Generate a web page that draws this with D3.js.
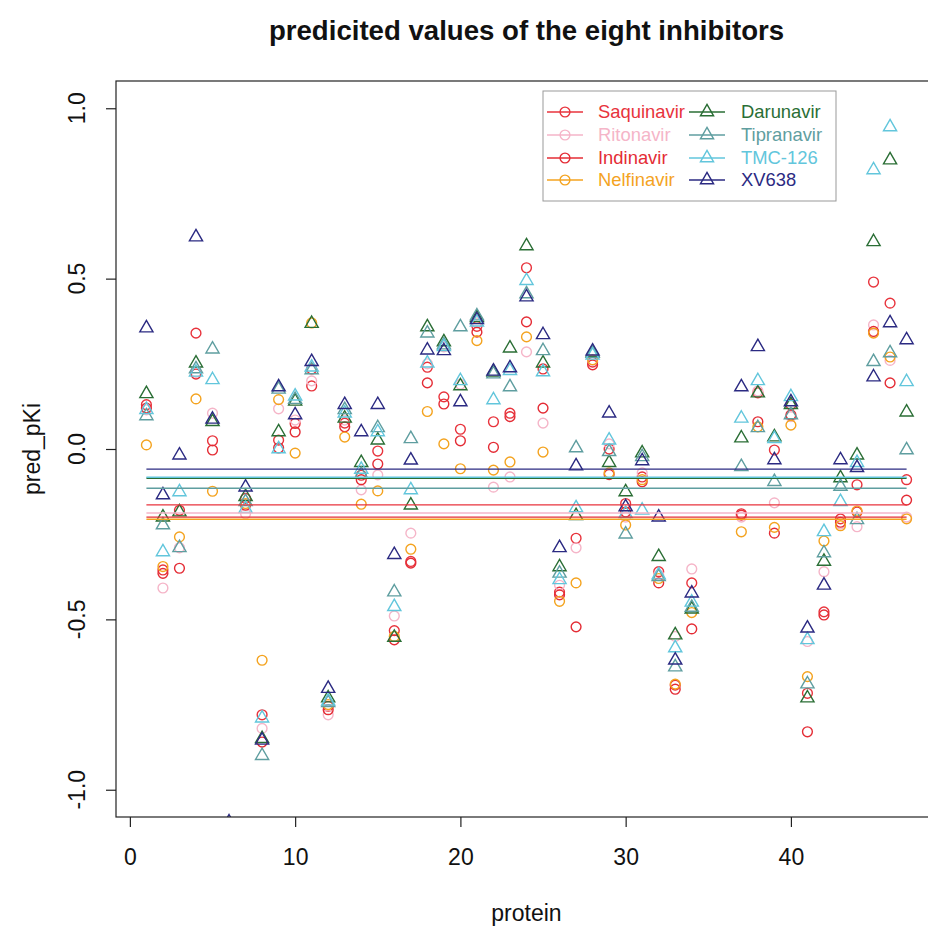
<!DOCTYPE html>
<html>
<head>
<meta charset="utf-8">
<script src="https://cdn.jsdelivr.net/npm/d3@7"></script>
<style>
  body { margin: 0; background: #fff; }
  svg { display: block; font-family: "Liberation Sans", Arial, sans-serif; }
</style>
</head>
<body>
<svg width="928" height="927"></svg>
<script>
// protein index on the x axis (35 and 36 have no plotted value)
const proteins = [1,2,3,4,5,6,7,8,9,10,11,12,13,14,15,16,17,18,19,20,21,22,23,24,25,26,27,28,29,30,
  31,32,33,34,35,36,37,38,39,40,41,42,43,44,45,46,47];

const saquinavir = [0.13,-0.355,-0.18,0.34,0.024,-1.2,-0.145,-0.78,0.026,0.075,0.185,-0.755,0.076,-0.077,-0.006,-0.533,-0.33,0.24,0.153,0.058,
  0.36,0.08,0.105,0.532,0.235,-0.42,-0.262,0.255,0.0,-0.16,-0.082,-0.36,-0.693,-0.393,null,null,-0.194,0.165,-0.003,0.13,
  -0.717,-0.478,-0.205,-0.105,0.49,0.428,-0.09];
const ritonavir = [0.115,-0.408,-0.29,0.225,0.105,-1.25,-0.19,-0.82,0.118,0.085,0.2,-0.78,0.085,-0.12,-0.076,-0.49,-0.247,0.25,0.3,0.19,
  0.37,-0.112,-0.082,0.285,0.076,-0.4,-0.29,0.26,0.015,-0.2,-0.07,-0.37,-0.55,-0.352,null,null,-0.2,0.17,-0.158,0.095,
  -0.565,-0.36,-0.22,-0.228,0.364,0.26,-0.2];
const indinavir = [0.12,-0.365,-0.35,0.22,-0.003,-1.22,-0.165,-0.86,0.003,0.05,0.235,-0.765,0.065,-0.09,-0.044,-0.56,-0.335,0.194,0.132,0.024,
  0.343,0.005,0.095,0.373,0.12,-0.428,-0.522,0.247,-0.075,-0.185,-0.096,-0.393,-0.705,-0.528,null,null,-0.19,0.08,-0.247,0.1,
  -0.83,-0.487,-0.215,-0.185,0.345,0.194,-0.15];
const nelfinavir = [0.012,-0.345,-0.258,0.147,-0.124,-1.18,-0.16,-0.62,0.145,-0.012,0.37,-0.75,0.035,-0.162,-0.123,-0.55,-0.294,0.11,0.015,-0.058,
  0.318,-0.062,-0.038,0.329,-0.009,-0.447,-0.393,0.262,-0.07,-0.223,-0.09,-0.38,-0.69,-0.48,null,null,-0.243,0.065,-0.23,0.07,
  -0.668,-0.27,-0.225,-0.182,0.34,0.27,-0.205];
const darunavir = [0.162,-0.2,-0.185,0.252,0.08,-1.15,-0.14,-0.85,0.05,0.14,0.368,-0.731,0.09,-0.04,0.026,-0.553,-0.165,0.358,0.314,0.185,
  0.385,0.225,0.296,0.596,0.252,-0.346,-0.196,0.282,-0.04,-0.126,-0.012,-0.316,-0.546,-0.47,null,null,0.032,0.164,0.035,0.13,
  -0.731,-0.33,-0.085,-0.018,0.608,0.848,0.108];
const tipranavir = [0.097,-0.223,-0.29,0.235,0.293,-1.28,-0.155,-0.9,0.175,0.145,0.232,-0.745,0.115,-0.075,0.062,-0.42,0.03,0.34,0.305,0.358,
  0.39,0.22,0.182,0.455,0.288,-0.365,0.003,0.28,-0.008,-0.25,-0.023,-0.375,-0.64,-0.465,null,null,-0.052,0.062,-0.096,0.1,
  -0.69,-0.305,-0.11,-0.208,0.256,0.282,-0.003];
const tmc126 = [0.115,-0.302,-0.126,0.225,0.203,-1.2,-0.175,-0.79,0.0,0.155,0.24,-0.74,0.105,-0.06,0.05,-0.463,-0.12,0.252,0.3,0.2,
  0.372,0.144,0.23,0.494,0.226,-0.384,-0.173,0.275,0.026,-0.19,-0.18,-0.37,-0.584,-0.45,null,null,0.09,0.2,0.03,0.153,
  -0.56,-0.243,-0.155,-0.04,0.819,0.945,0.197];
const xv638 = [0.355,-0.135,-0.018,0.622,0.087,-1.095,-0.112,-0.855,0.182,0.1,0.256,-0.703,0.13,0.05,0.13,-0.31,-0.033,0.29,0.288,0.138,
  0.379,0.228,0.238,0.446,0.335,-0.29,-0.05,0.287,0.105,-0.17,-0.035,-0.2,-0.62,-0.423,null,null,0.182,0.3,-0.032,0.138,
  -0.526,-0.4,-0.032,-0.055,0.211,0.37,0.32];

// horizontal reference level of each inhibitor
const meanLevels = [-0.164, -0.188, -0.2, -0.206, -0.086, -0.115, -0.083, -0.059];

const names = ["Saquinavir","Ritonavir","Indinavir","Nelfinavir","Darunavir","Tipranavir","TMC-126","XV638"];
const values = [saquinavir, ritonavir, indinavir, nelfinavir, darunavir, tipranavir, tmc126, xv638];
const colors = ["#e8333c","#f5b5c8","#e42c35","#f4a31f","#2a6e35","#5f9ea0","#62c6dc","#2b2a82"];
const shapes = ["circle","circle","circle","circle","triangle","triangle","triangle","triangle"];

const xTicks = [0, 10, 20, 30, 40];
const yTicks = [-1.0, -0.5, 0.0, 0.5, 1.0];

const svg = d3.select("svg");
const plot = { left: 116, right: 937, top: 81, bottom: 817 };

const x = d3.scaleLinear().domain([-0.84, 48.84]).range([plot.left, plot.right]);
const y = d3.scaleLinear().domain([-1.08, 1.08]).range([plot.bottom, plot.top]);

const circleR = 4.9, triR = 7.6;
function triPath(r) {
  const xc = r * Math.sqrt(3) / 2, yc = r / 2;
  return `M0,${-r}L${xc},${yc}L${-xc},${yc}Z`;
}

svg.append("clipPath").attr("id", "clip")
  .append("rect")
  .attr("x", plot.left).attr("y", plot.top)
  .attr("width", plot.right - plot.left).attr("height", plot.bottom - plot.top);

const g = svg.append("g").attr("clip-path", "url(#clip)");

// points for each inhibitor
values.forEach((series, i) => {
  const pts = proteins.map((p, j) => ({ p, v: series[j] })).filter(d => d.v !== null);
  if (shapes[i] === "circle") {
    g.selectAll(null).data(pts).enter().append("circle")
      .attr("cx", d => x(d.p)).attr("cy", d => y(d.v)).attr("r", circleR)
      .attr("fill", "none").attr("stroke", colors[i]).attr("stroke-width", 1.4);
  } else {
    g.selectAll(null).data(pts).enter().append("path")
      .attr("transform", d => `translate(${x(d.p)},${y(d.v)})`)
      .attr("d", triPath(triR))
      .attr("fill", "none").attr("stroke", colors[i]).attr("stroke-width", 1.4);
  }
});

// mean lines
meanLevels.forEach((m, i) => {
  g.append("line")
    .attr("x1", x(proteins[0])).attr("x2", x(proteins[proteins.length - 1]))
    .attr("y1", y(m)).attr("y2", y(m))
    .attr("stroke", colors[i]).attr("stroke-width", 1.4);
});

// box
svg.append("rect")
  .attr("x", plot.left).attr("y", plot.top)
  .attr("width", plot.right - plot.left).attr("height", plot.bottom - plot.top)
  .attr("fill", "none").attr("stroke", "#222").attr("stroke-width", 1.2);

// x axis
const xAxis = svg.append("g")
  .attr("transform", `translate(0,${plot.bottom})`)
  .call(d3.axisBottom(x).tickValues(xTicks).tickSize(10).tickPadding(22).tickFormat(d3.format("d")));
xAxis.select(".domain").remove();
xAxis.selectAll("line").attr("stroke", "#222").attr("stroke-width", 1.2);
xAxis.selectAll("text").attr("font-size", 23).attr("fill", "#111")
  .attr("font-family", "'Liberation Sans', Arial, sans-serif");

// y axis
const yAxis = svg.append("g")
  .attr("transform", `translate(${plot.left},0)`)
  .call(d3.axisLeft(y).tickValues(yTicks).tickSize(10).tickFormat(""));
yAxis.select(".domain").remove();
yAxis.selectAll("line").attr("stroke", "#222").attr("stroke-width", 1.2);
svg.append("g").selectAll("text").data(yTicks).enter().append("text")
  .attr("transform", d => `translate(85,${y(d)}) rotate(-90)`)
  .attr("text-anchor", "middle")
  .attr("font-size", 23).attr("fill", "#111")
  .text(d => d3.format(".1f")(d).replace("−", "-"));

// titles
svg.append("text")
  .attr("x", (plot.left + plot.right) / 2).attr("y", 40)
  .attr("text-anchor", "middle").attr("font-size", 27.6).attr("font-weight", "bold")
  .attr("fill", "#111")
  .text("predicited values of the eight inhibitors");
svg.append("text")
  .attr("x", (plot.left + plot.right) / 2).attr("y", 921)
  .attr("text-anchor", "middle").attr("font-size", 23).attr("fill", "#111")
  .text("protein");
svg.append("text")
  .attr("transform", `translate(40,${(plot.top + plot.bottom) / 2}) rotate(-90)`)
  .attr("text-anchor", "middle").attr("font-size", 23).attr("fill", "#111")
  .text("pred_pKi");

// legend
const legend = svg.append("g");
legend.append("rect")
  .attr("x", 543).attr("y", 91).attr("width", 293).attr("height", 110)
  .attr("fill", "#fff").attr("stroke", "#999").attr("stroke-width", 1);
const rowY = [112, 135, 158, 180];
names.forEach((name, i) => {
  const col = i < 4 ? 0 : 1;
  const cy = rowY[i % 4];
  const cx = col === 0 ? 565 : 707;
  legend.append("line")
    .attr("x1", cx - 18).attr("x2", cx + 18).attr("y1", cy).attr("y2", cy)
    .attr("stroke", colors[i]).attr("stroke-width", 1.4);
  if (shapes[i] === "circle") {
    legend.append("circle").attr("cx", cx).attr("cy", cy).attr("r", circleR)
      .attr("fill", "none").attr("stroke", colors[i]).attr("stroke-width", 1.4);
  } else {
    legend.append("path").attr("transform", `translate(${cx},${cy})`)
      .attr("d", triPath(triR))
      .attr("fill", "none").attr("stroke", colors[i]).attr("stroke-width", 1.4);
  }
  legend.append("text")
    .attr("x", col === 0 ? 598 : 741).attr("y", cy).attr("dy", "0.35em")
    .attr("font-size", 18.4).attr("fill", colors[i])
    .text(name);
});
</script>
</body>
</html>
